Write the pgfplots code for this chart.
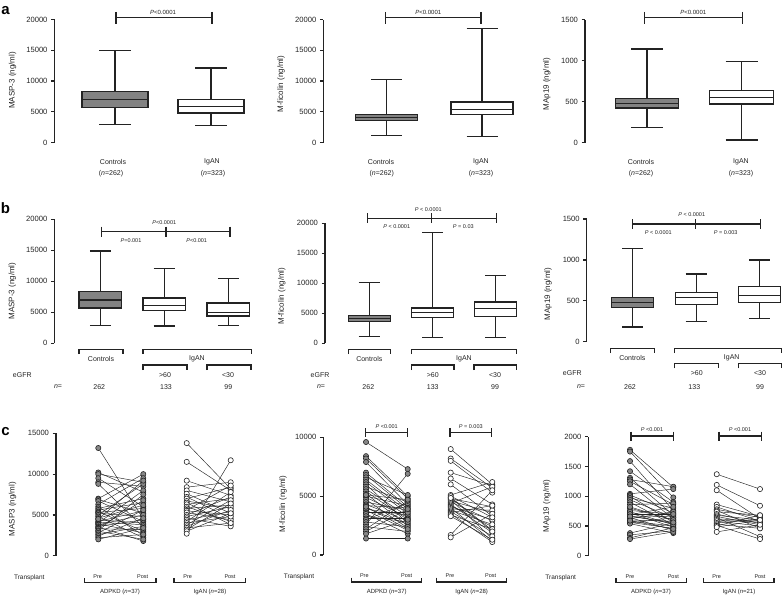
\documentclass[border=0pt]{standalone}
\usepackage{fontspec}
\setmainfont{Liberation Sans}
\usepackage{pgfplots}
\usepackage{pgfplotstable}
\pgfplotsset{compat=1.18}
\definecolor{boxgray}{RGB}{130,130,130}
\definecolor{dotgray}{RGB}{135,135,135}
\definecolor{ink}{RGB}{35,35,35}

\pgfplotsset{
 panel/.style={scale only axis, anchor=south west, axis x line=none, axis y line=left,
   axis line style={-, line width=1.2pt, draw=ink}, enlargelimits=false, ymin=0, xmin=0, clip=false,
   xtick=\empty, tick align=outside, major tick length=3.5pt,
   ytick style={line width=1.2pt, draw=ink},
   yticklabel style={font=\fontsize{7.6}{8}\selectfont, text=ink},
   scaled y ticks=false,
   /pgf/number format/1000 sep={}, /pgf/number format/assume math mode=true},
 bxl/.style={draw=ink, line width=1.2pt, solid, mark=none},
 ln/.style={ink, line width=0.45pt, -},
 dg/.style={only marks, mark=*, mark size=2.6pt, mark options={fill=dotgray, draw=ink, line width=0.6pt}},
 dw/.style={only marks, mark=*, mark size=2.6pt, mark options={fill=white, draw=ink, line width=0.6pt}},
}

% box: #1 fill, #2 centre, #3 half width, #4 lower whisker, #5 Q1, #6 median, #7 Q3, #8 upper whisker, #9 half cap
\newcommand\bxp[9]{%
 \pgfmathsetmacro\bxXl{#2-#3}\pgfmathsetmacro\bxXr{#2+#3}%
 \pgfmathsetmacro\bxCl{#2-#9}\pgfmathsetmacro\bxCr{#2+#9}%
 \addplot[bxl] coordinates {(#2,#4) (#2,#5)};
 \addplot[bxl] coordinates {(#2,#7) (#2,#8)};
 \addplot[bxl] coordinates {(\bxCl,#4) (\bxCr,#4)};
 \addplot[bxl] coordinates {(\bxCl,#8) (\bxCr,#8)};
 \addplot[bxl, fill=#1] coordinates {(\bxXl,#5) (\bxXr,#5) (\bxXr,#7) (\bxXl,#7)} -- cycle;
 \addplot[bxl] coordinates {(\bxXl,#6) (\bxXr,#6)};
}

% ---- row c paired data (pre / post transplant) ----
\pgfplotstableread{
pre post
13200 4500
10200 7800
10000 9000
9500 6000
9000 8500
8800 3500
7000 10000
6900 5200
6700 4200
6300 9500
6000 2500
5800 7000
5600 6500
5400 3000
5300 5800
5200 4800
5000 8800
4800 2200
4600 6200
4400 4000
4200 5500
4100 3800
4000 8000
3900 2800
3800 5000
3600 4400
3500 1800
3400 6800
3300 3200
3100 7500
3000 2000
2800 5600
2600 3600
2400 4600
2200 2600
2000 3400
4500 9200
}\caA
\pgfplotstableread{
pre post
13800 8200
11500 8000
9200 7400
8400 9000
8000 6600
7600 5200
7200 4600
7000 8400
6700 5800
6500 3800
6300 7000
6000 4200
5800 6200
5600 8600
5500 5000
5300 4400
5000 7200
4800 6000
4600 3600
4400 5400
4200 7800
4000 4800
3800 6800
3600 5600
3400 4000
3200 6400
3000 5200
2700 11700
}\caB
\pgfplotstableread{
pre post
9600 7300
8400 5000
8200 4800
7900 4300
7000 4100
6800 3900
6600 5100
6400 3700
6200 3500
6000 2700
5800 4500
5600 3300
5400 3000
5200 2500
5000 4200
4900 3200
4700 2300
4500 3800
4300 2900
4200 4000
4000 2600
3900 3400
3800 2100
3600 3600
3500 1800
3300 2800
3100 3100
3000 4400
2800 2400
2600 6900
2400 2000
2200 4600
2000 3900
1800 3000
1400 1400
4100 2200
5100 4700
}\cbA
\pgfplotstableread{
pre post
9000 6000
8200 5700
8000 5300
7000 5900
6500 4300
6000 3300
5100 6200
4900 2100
4800 4100
4700 1400
4600 3600
4500 2900
4400 5800
4300 1900
4200 2400
4100 3000
4000 1200
3900 3800
3800 2600
3700 1600
3600 4200
3500 1100
3400 2200
1700 5500
1500 3500
5000 3200
4850 2000
3300 1300
}\cbB
\pgfplotstableread{
pre post
1780 1150
1750 980
1590 760
1420 900
1310 680
1280 1160
1250 860
1200 620
1040 1120
1020 720
1000 560
970 800
940 640
900 520
860 880
800 600
760 700
720 480
690 820
670 540
650 660
640 430
620 740
600 580
580 500
560 460
550 640
540 380
380 550
350 420
300 470
280 400
820 600
740 520
700 700
660 560
590 450
}\ccA
\pgfplotstableread{
pre post
1370 1120
1190 840
1100 620
860 660
820 580
780 640
760 460
740 680
700 540
680 600
660 520
640 320
620 580
600 560
580 500
550 620
530 460
510 280
500 680
480 600
400 520
}\ccB

\newcommand\hbr[4]{\draw[brk] (#1,#3)--(#2,#3) (#1,#3-#4)--(#1,#3+#4) (#2,#3-#4)--(#2,#3+#4);}
\newcommand\tbr[5]{\draw[brk] (#1,#4)--(#3,#4) (#1,#4-#5)--(#1,#4+#5) (#2,#4-#5)--(#2,#4+#5) (#3,#4-#5)--(#3,#4+#5);}
\newcommand\cbr[4]{\draw[brk] (#1,#3+#4)--(#1,#3)--(#2,#3)--(#2,#3+#4);}

\begin{document}
\begin{tikzpicture}
\useasboundingbox (0pt,0pt) rectangle (783pt,-595pt);

% ================= row a =================
\begin{axis}[panel, at={(54.5pt,-142.5pt)}, width=200pt, height=123pt, xmax=200, ymax=20000, ytick={0,5000,10000,15000,20000}]
\bxp{boxgray}{60.5}{33}{2900}{5700}{7000}{8300}{14900}{16}
\bxp{white}{156.5}{33}{2800}{4800}{5800}{7000}{12100}{16}
\end{axis}

\begin{axis}[panel, at={(323.3pt,-142.5pt)}, width=200pt, height=123pt, xmax=200, ymax=20000, ytick={0,5000,10000,15000,20000}]
\bxp{boxgray}{63.2}{31}{1100}{3600}{4100}{4600}{10200}{15.5}
\bxp{white}{158.7}{31}{1000}{4500}{5400}{6600}{18500}{15.5}
\end{axis}

\begin{axis}[panel, at={(585pt,-142.5pt)}, width=198pt, height=123pt, xmax=198, ymax=1500, ytick={0,500,1000,1500}]
\bxp{boxgray}{62}{31.5}{180}{420}{480}{540}{1140}{16}
\bxp{white}{156.5}{32}{30}{470}{550}{630}{990}{16}
\end{axis}

% ================= row b =================
\begin{axis}[panel, at={(54.3pt,-343.3pt)}, width=200pt, height=124pt, xmax=200, ymax=20000, ytick={0,5000,10000,15000,20000}]
\bxp{boxgray}{46}{21.3}{2900}{5700}{7000}{8300}{14900}{10.5}
\bxp{white}{109.9}{21.3}{2800}{5300}{6100}{7300}{12100}{10.5}
\bxp{white}{174}{21.3}{2900}{4400}{5000}{6500}{10400}{10.5}
\end{axis}

\begin{axis}[panel, at={(325pt,-343.3pt)}, width=195pt, height=120pt, xmax=195, ymax=20000, ytick={0,5000,10000,15000,20000}]
\bxp{boxgray}{44.2}{21}{1100}{3600}{4200}{4700}{10200}{10.5}
\bxp{white}{107.5}{21}{1000}{4300}{5100}{5900}{18500}{10.5}
\bxp{white}{170.8}{21}{1000}{4500}{5800}{6900}{11300}{10.5}
\end{axis}

\begin{axis}[panel, at={(586.7pt,-341.7pt)}, width=196.3pt, height=122.7pt, xmax=196.3, ymax=1500, ytick={0,500,1000,1500}]
\bxp{boxgray}{45.8}{21}{180}{420}{480}{540}{1140}{10.5}
\bxp{white}{109.5}{21}{244}{457}{538}{599}{828}{10.5}
\bxp{white}{173.1}{21}{286}{482}{567}{672}{999}{10.5}
\end{axis}

% ================= row c =================
\begin{axis}[panel, at={(56pt,-555.7pt)}, width=194pt, height=122.4pt, xmax=194, ymax=15000, ytick={0,5000,10000,15000}]
\addplot[ln, quiver={u=45, v=\thisrow{post}-\thisrow{pre}}] table[x expr=42.3, y=pre] {\caA};
\addplot[ln, quiver={u=44, v=\thisrow{post}-\thisrow{pre}}] table[x expr=130.7, y=pre] {\caB};
\addplot[dg] table[x expr=42.3, y=pre] {\caA};
\addplot[dg] table[x expr=87.3, y=post] {\caA};
\addplot[dw] table[x expr=130.7, y=pre] {\caB};
\addplot[dw] table[x expr=174.7, y=post] {\caB};
\end{axis}

\begin{axis}[panel, at={(323.3pt,-555pt)}, width=196.7pt, height=117.7pt, xmax=196.7, ymax=10000, ytick={0,5000,10000}]
\addplot[ln, quiver={u=41.7, v=\thisrow{post}-\thisrow{pre}}] table[x expr=42.7, y=pre] {\cbA};
\addplot[ln, quiver={u=41.6, v=\thisrow{post}-\thisrow{pre}}] table[x expr=127.4, y=pre] {\cbB};
\addplot[dg] table[x expr=42.7, y=pre] {\cbA};
\addplot[dg] table[x expr=84.4, y=post] {\cbA};
\addplot[dw] table[x expr=127.4, y=pre] {\cbB};
\addplot[dw] table[x expr=169, y=post] {\cbB};
\end{axis}

\begin{axis}[panel, at={(588.3pt,-555.7pt)}, width=194.7pt, height=119pt, xmax=194.7, ymax=2000, ytick={0,500,1000,1500,2000}]
\addplot[ln, quiver={u=43.3, v=\thisrow{post}-\thisrow{pre}}] table[x expr=41.7, y=pre] {\ccA};
\addplot[ln, quiver={u=43.3, v=\thisrow{post}-\thisrow{pre}}] table[x expr=128.4, y=pre] {\ccB};
\addplot[dg] table[x expr=41.7, y=pre] {\ccA};
\addplot[dg] table[x expr=85, y=post] {\ccA};
\addplot[dw] table[x expr=128.4, y=pre] {\ccB};
\addplot[dw] table[x expr=171.7, y=post] {\ccB};
\end{axis}

% ================= annotations =================
\begin{scope}[x=1pt, y=-1pt, brk/.style={draw=ink, line width=1.2pt}, every node/.style={inner sep=0pt, text=ink}]
% panel letters
\node[font=\bfseries\fontsize{15}{15}\selectfont, text=black] at (5.5,11) {a};
\node[font=\bfseries\fontsize{15}{15}\selectfont, text=black] at (5.5,208.5) {b};
\node[font=\bfseries\fontsize{15}{15}\selectfont, text=black] at (5.5,431.5) {c};
% y labels
\begin{scope}[every node/.append style={rotate=90, font=\fontsize{8}{9}\selectfont}]
\node at (12.5,80.5) {MASP-3 (ng/ml)};
\node at (281,84) {M-ficolin (ng/ml)};
\node at (546.7,84) {MAp19 (ng/ml)};
\node at (12.3,291) {MASP-3 (ng/ml)};
\node at (281.7,296) {M-ficolin (ng/ml)};
\node at (548,294) {MAp19 (ng/ml)};
\node at (12.5,509) {MASP3 (ng/ml)};
\node at (283,504) {M-ficolin (ng/ml)};
\node at (546.7,505.8) {MAp19 (ng/ml)};
\end{scope}
% row a
\begin{scope}[every node/.append style={font=\fontsize{7}{8}\selectfont}]
\node at (113,162.3) {Controls}; \node at (111,174) {(\textit{n}=262)};
\node at (212,162.3) {IgAN}; \node at (213,174) {(\textit{n}=323)};
\node at (381,162.3) {Controls}; \node at (381.7,174) {(\textit{n}=262)};
\node at (481,162.3) {IgAN}; \node at (481,174) {(\textit{n}=323)};
\node at (641,162.3) {Controls}; \node at (641,174) {(\textit{n}=262)};
\node at (741,162.3) {IgAN}; \node at (741,174) {(\textit{n}=323)};
\end{scope}
\begin{scope}[every node/.append style={font=\fontsize{6}{7}\selectfont}]
\node at (163,12.3) {\textit{P}<0.0001};
\node at (428.3,12.3) {\textit{P}<0.0001};
\node at (693.3,12.3) {\textit{P}<0.0001};
\end{scope}
\hbr{116}{212}{17.7}{5.8}
\hbr{385.7}{481}{17.7}{5.8}
\hbr{644.3}{742.7}{17.7}{5.8}
% row b p-values
\begin{scope}[every node/.append style={font=\fontsize{5.5}{6}\selectfont}]
\node at (164.3,222.3) {\textit{P}<0.0001};
\node at (131,241) {\textit{P}=0.001};
\node at (196.7,241) {\textit{P}<0.001};
\node at (428.3,209.3) {\textit{P} < 0.0001};
\node at (396.7,226.7) {\textit{P} < 0.0001};
\node at (463.3,226.7) {\textit{P} = 0.03};
\node at (691.7,215) {\textit{P} < 0.0001};
\node at (658.3,232.7) {\textit{P} < 0.0001};
\node at (725.7,232.7) {\textit{P} = 0.003};
\end{scope}
\tbr{101.7}{166}{230}{231.7}{5}
\tbr{367.3}{431.7}{496.7}{218.3}{5}
\tbr{632.7}{695.7}{760.7}{224}{5}
% row b categories
\cbr{79}{123}{349.3}{4.7} \cbr{143}{251.7}{349.3}{4.7}
\cbr{143}{187}{365}{5} \cbr{207}{251}{365}{5}
\cbr{348.3}{390.7}{349.3}{4.7} \cbr{411.7}{516.7}{349.3}{4.7}
\cbr{411.7}{454}{365}{5} \cbr{474}{516.7}{365}{5}
\cbr{610.7}{654.7}{348.3}{4.7} \cbr{674.3}{781.7}{348.3}{4.7}
\cbr{674.3}{718.3}{363.3}{5} \cbr{738.3}{781.7}{363.3}{5}
\begin{scope}[every node/.append style={font=\fontsize{7}{8}\selectfont}]
\node at (101,359.3) {Controls}; \node at (197,359.3) {IgAN};
\node at (165,375.5) {>60}; \node at (228,375.5) {<30};
\node at (22.3,375) {eGFR}; \node at (58,386.7) {\textit{n}=};
\node at (99.3,386.7) {262}; \node at (166,386.7) {133}; \node at (228.3,386.7) {99};
\node at (369.3,359.3) {Controls}; \node at (464,359.3) {IgAN};
\node at (432.7,375.5) {>60}; \node at (495,375.5) {<30};
\node at (320,375) {eGFR}; \node at (321,386.7) {\textit{n}=};
\node at (368.3,386.7) {262}; \node at (432.7,386.7) {133}; \node at (495,386.7) {99};
\node at (632.3,358.3) {Controls}; \node at (731.7,358.3) {IgAN};
\node at (696.7,373) {>60}; \node at (760,373) {<30};
\node at (572.3,373) {eGFR}; \node at (581,386.7) {\textit{n}=};
\node at (630,386.7) {262}; \node at (694.3,386.7) {133}; \node at (760,386.7) {99};
\end{scope}
% row c
\begin{scope}[every node/.append style={font=\fontsize{5.5}{6}\selectfont}]
\node at (386.7,426.7) {\textit{P} <0.001};
\node at (470.8,426.7) {\textit{P} = 0.003};
\node at (652,430) {\textit{P} <0.001};
\node at (740,430) {\textit{P} <0.001};
\node at (97.7,576.7) {Pre}; \node at (142.7,576.7) {Post};
\node at (187.7,576.7) {Pre}; \node at (230,576.7) {Post};
\node at (364.3,576) {Pre}; \node at (406.7,576) {Post};
\node at (450,576) {Pre}; \node at (490.7,576) {Post};
\node at (630,577) {Pre}; \node at (673.3,577) {Post};
\node at (716.7,577) {Pre}; \node at (760,577) {Post};
\end{scope}
\hbr{365.7}{407.7}{432.3}{4.2}
\hbr{450}{491.7}{432.3}{4.2}
\hbr{631}{673.3}{436}{4.5}
\hbr{719}{761.7}{436}{4.5}
\cbr{84.3}{156}{582.7}{-4.4} \cbr{174}{245.7}{582.7}{-4.4}
\cbr{351.7}{421.7}{582}{-4.4} \cbr{436.7}{506.7}{582}{-4.4}
\cbr{616}{686.7}{582.7}{-4.4} \cbr{703.3}{774}{582.7}{-4.4}
\begin{scope}[every node/.append style={font=\fontsize{6.5}{7}\selectfont}]
\node at (29.3,577.7) {Transplant};
\node at (299,577) {Transplant};
\node at (560.7,577.7) {Transplant};
\end{scope}
\begin{scope}[every node/.append style={font=\fontsize{6}{7}\selectfont}]
\node at (120,592) {ADPKD (\textit{n}=37)}; \node at (210,592) {IgAN (\textit{n}=28)};
\node at (386.7,592) {ADPKD (\textit{n}=37)}; \node at (471.7,592) {IgAN (\textit{n}=28)};
\node at (651,592) {ADPKD (\textit{n}=37)}; \node at (739,592) {IgAN (\textit{n}=21)};
\end{scope}
\end{scope}
\end{tikzpicture}
\end{document}
